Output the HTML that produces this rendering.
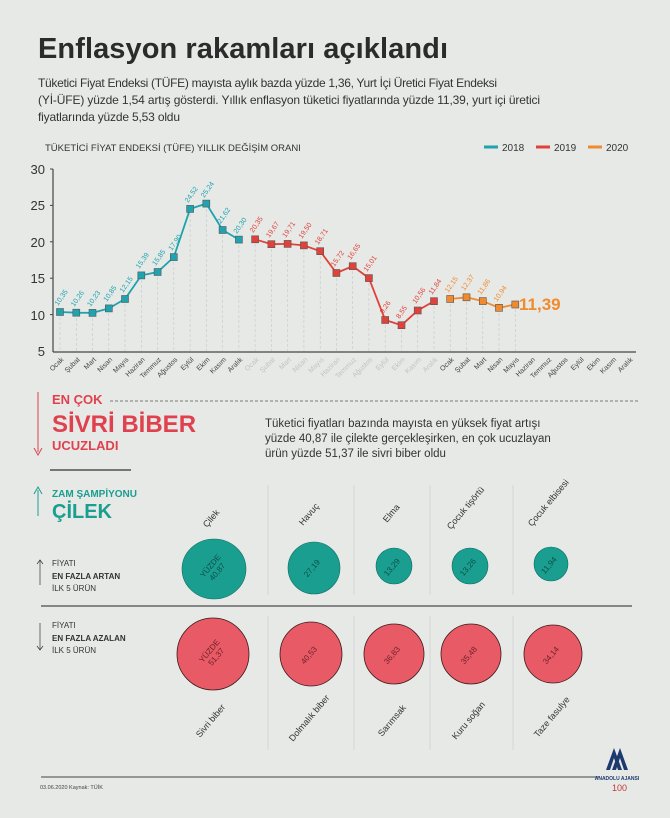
<!DOCTYPE html>
<html><head><meta charset="utf-8"><style>
body{margin:0;background:#e7e9e7;}
svg{display:block;font-family:"Liberation Sans",sans-serif;}
</style></head><body>
<svg width="670" height="818" viewBox="0 0 670 818" xmlns="http://www.w3.org/2000/svg">
<rect width="670" height="818" fill="#e7e9e7"/>
<text x="38" y="58" font-size="29" font-weight="bold" fill="#2b2b2b" textLength="410">Enflasyon rakamları açıklandı</text>
<g font-size="12" fill="#333">
<text x="38" y="87" textLength="459">Tüketici Fiyat Endeksi (TÜFE) mayısta aylık bazda yüzde 1,36, Yurt İçi Üretici Fiyat Endeksi</text>
<text x="38" y="104" textLength="502">(Yİ-ÜFE) yüzde 1,54 artış gösterdi. Yıllık enflasyon tüketici fiyatlarında yüzde 11,39, yurt içi üretici</text>
<text x="38" y="121" textLength="142">fiyatlarında yüzde 5,53 oldu</text>
</g>
<text x="45" y="151" font-size="9.5" fill="#333">TÜKETİCİ FİYAT ENDEKSİ (TÜFE) YILLIK DEĞİŞİM ORANI</text>
<g font-size="10" fill="#333">
<line x1="484" y1="147" x2="498" y2="147" stroke="#1fa3ae" stroke-width="3"/><text x="502" y="151">2018</text>
<line x1="536" y1="147" x2="550" y2="147" stroke="#e0413a" stroke-width="3"/><text x="554" y="151">2019</text>
<line x1="588" y1="147" x2="602" y2="147" stroke="#f08a2e" stroke-width="3"/><text x="606" y="151">2020</text>
</g>

<!-- chart -->
<g stroke="#c4c8c8" stroke-dasharray="3,2" stroke-width="0.6">
<line x1="60" y1="312" x2="60" y2="351"/><line x1="76.3" y1="313" x2="76.3" y2="351"/><line x1="92.5" y1="313" x2="92.5" y2="351"/><line x1="108.8" y1="308" x2="108.8" y2="351"/><line x1="125" y1="299" x2="125" y2="351"/><line x1="141.3" y1="275" x2="141.3" y2="351"/><line x1="157.6" y1="272" x2="157.6" y2="351"/><line x1="173.8" y1="257" x2="173.8" y2="351"/><line x1="190.1" y1="209" x2="190.1" y2="351"/><line x1="206.3" y1="204" x2="206.3" y2="351"/><line x1="222.6" y1="230" x2="222.6" y2="351"/><line x1="238.9" y1="240" x2="238.9" y2="351"/>
<line x1="255.1" y1="239" x2="255.1" y2="351"/><line x1="271.4" y1="244" x2="271.4" y2="351"/><line x1="287.6" y1="244" x2="287.6" y2="351"/><line x1="303.9" y1="245" x2="303.9" y2="351"/><line x1="320.2" y1="251" x2="320.2" y2="351"/><line x1="336.4" y1="273" x2="336.4" y2="351"/><line x1="352.7" y1="266" x2="352.7" y2="351"/><line x1="368.9" y1="278" x2="368.9" y2="351"/><line x1="385.2" y1="320" x2="385.2" y2="351"/><line x1="401.5" y1="325" x2="401.5" y2="351"/><line x1="417.7" y1="310" x2="417.7" y2="351"/><line x1="434" y1="301" x2="434" y2="351"/>
<line x1="450.2" y1="299" x2="450.2" y2="351"/><line x1="466.5" y1="297" x2="466.5" y2="351"/><line x1="482.8" y1="301" x2="482.8" y2="351"/><line x1="499" y1="308" x2="499" y2="351"/><line x1="515.3" y1="304" x2="515.3" y2="351"/>
</g>
<line x1="53" y1="169" x2="53" y2="352" stroke="#444" stroke-width="1.2"/>
<line x1="53" y1="352" x2="636" y2="352" stroke="#444" stroke-width="1.2"/>
<g stroke="#444"><line x1="50" y1="169" x2="53" y2="169"/><line x1="50" y1="205.4" x2="53" y2="205.4"/><line x1="50" y1="241.8" x2="53" y2="241.8"/><line x1="50" y1="278.2" x2="53" y2="278.2"/><line x1="50" y1="314.6" x2="53" y2="314.6"/></g>
<g font-size="13" fill="#333" text-anchor="end">
<text x="45" y="174">30</text><text x="45" y="210">25</text><text x="45" y="247">20</text><text x="45" y="283">15</text><text x="45" y="320">10</text><text x="45" y="356">5</text>
</g>
<g font-size="7" fill="#444" text-anchor="end">
<text transform="translate(64,360) rotate(-45)">Ocak</text><text transform="translate(80.3,360) rotate(-45)">Şubat</text><text transform="translate(96.5,360) rotate(-45)">Mart</text><text transform="translate(112.8,360) rotate(-45)">Nisan</text><text transform="translate(129,360) rotate(-45)">Mayıs</text><text transform="translate(145.3,360) rotate(-45)">Haziran</text><text transform="translate(161.6,360) rotate(-45)">Temmuz</text><text transform="translate(177.8,360) rotate(-45)">Ağustos</text><text transform="translate(194.1,360) rotate(-45)">Eylül</text><text transform="translate(210.3,360) rotate(-45)">Ekim</text><text transform="translate(226.6,360) rotate(-45)">Kasım</text><text transform="translate(242.9,360) rotate(-45)">Aralık</text>
<g fill="#bfc3c3"><text transform="translate(259.1,360) rotate(-45)">Ocak</text><text transform="translate(275.4,360) rotate(-45)">Şubat</text><text transform="translate(291.6,360) rotate(-45)">Mart</text><text transform="translate(307.9,360) rotate(-45)">Nisan</text><text transform="translate(324.2,360) rotate(-45)">Mayıs</text><text transform="translate(340.4,360) rotate(-45)">Haziran</text><text transform="translate(356.7,360) rotate(-45)">Temmuz</text><text transform="translate(372.9,360) rotate(-45)">Ağustos</text><text transform="translate(389.2,360) rotate(-45)">Eylül</text><text transform="translate(405.5,360) rotate(-45)">Ekim</text><text transform="translate(421.7,360) rotate(-45)">Kasım</text><text transform="translate(438,360) rotate(-45)">Aralık</text></g>
<text transform="translate(454.2,360) rotate(-45)">Ocak</text><text transform="translate(470.5,360) rotate(-45)">Şubat</text><text transform="translate(486.8,360) rotate(-45)">Mart</text><text transform="translate(503,360) rotate(-45)">Nisan</text><text transform="translate(519.3,360) rotate(-45)">Mayıs</text><text transform="translate(535.5,360) rotate(-45)">Haziran</text><text transform="translate(551.8,360) rotate(-45)">Temmuz</text><text transform="translate(568.1,360) rotate(-45)">Ağustos</text><text transform="translate(584.3,360) rotate(-45)">Eylül</text><text transform="translate(600.6,360) rotate(-45)">Ekim</text><text transform="translate(616.8,360) rotate(-45)">Kasım</text><text transform="translate(633.1,360) rotate(-45)">Aralık</text>
</g>
<polyline points="60,312 76.3,312.7 92.5,312.9 108.8,308.4 125,299 141.3,275.4 157.6,272 173.8,257.1 190.1,208.9 206.3,203.6 222.6,230 238.9,239.6" fill="none" stroke="#1fa3ae" stroke-width="1.8"/>
<polyline points="255.1,239.3 271.4,244.2 287.6,243.9 303.9,245.4 320.2,251.2 336.4,273 352.7,266.2 368.9,278.1 385.2,320 401.5,325.2 417.7,310.5 434,301.2" fill="none" stroke="#e0413a" stroke-width="1.8"/>
<polyline points="450.2,299 466.5,297.3 482.8,301.1 499,307.8 515.3,304.5" fill="none" stroke="#f08a2e" stroke-width="1.8"/>
<g fill="#1fa3ae" stroke="#555" stroke-width="0.6">
<rect x="56.5" y="308.5" width="7" height="7"/><rect x="72.8" y="309.2" width="7" height="7"/><rect x="89" y="309.4" width="7" height="7"/><rect x="105.3" y="304.9" width="7" height="7"/><rect x="121.5" y="295.5" width="7" height="7"/><rect x="137.8" y="271.9" width="7" height="7"/><rect x="154.1" y="268.5" width="7" height="7"/><rect x="170.3" y="253.6" width="7" height="7"/><rect x="186.6" y="205.4" width="7" height="7"/><rect x="202.8" y="200.1" width="7" height="7"/><rect x="219.1" y="226.5" width="7" height="7"/><rect x="235.4" y="236.1" width="7" height="7"/>
</g>
<g fill="#e0413a" stroke="#555" stroke-width="0.6">
<rect x="251.6" y="235.8" width="7" height="7"/><rect x="267.9" y="240.7" width="7" height="7"/><rect x="284.1" y="240.4" width="7" height="7"/><rect x="300.4" y="241.9" width="7" height="7"/><rect x="316.7" y="247.7" width="7" height="7"/><rect x="332.9" y="269.5" width="7" height="7"/><rect x="349.2" y="262.7" width="7" height="7"/><rect x="365.4" y="274.6" width="7" height="7"/><rect x="381.7" y="316.5" width="7" height="7"/><rect x="398" y="321.7" width="7" height="7"/><rect x="414.2" y="307" width="7" height="7"/><rect x="430.5" y="297.7" width="7" height="7"/>
</g>
<g fill="#f08a2e" stroke="#555" stroke-width="0.6">
<rect x="446.7" y="295.5" width="7" height="7"/><rect x="463" y="293.8" width="7" height="7"/><rect x="479.3" y="297.6" width="7" height="7"/><rect x="495.5" y="304.3" width="7" height="7"/><rect x="511.8" y="301" width="7" height="7"/>
</g>
<g font-size="7" fill="#1fa3ae">
<text transform="translate(58,306) rotate(-55)">10,35</text><text transform="translate(74.3,307) rotate(-55)">10,26</text><text transform="translate(90.5,307) rotate(-55)">10,23</text><text transform="translate(106.8,302) rotate(-55)">10,85</text><text transform="translate(123,293) rotate(-55)">12,15</text><text transform="translate(139.3,269) rotate(-55)">15,39</text><text transform="translate(155.6,266) rotate(-55)">15,85</text><text transform="translate(171.8,251) rotate(-55)">17,90</text><text transform="translate(188.1,203) rotate(-55)">24,52</text><text transform="translate(204.3,198) rotate(-55)">25,24</text><text transform="translate(220.6,224) rotate(-55)">21,62</text><text transform="translate(236.9,234) rotate(-55)">20,30</text>
</g>
<g font-size="7" fill="#e0413a">
<text transform="translate(253.1,233) rotate(-55)">20,35</text><text transform="translate(269.4,238) rotate(-55)">19,67</text><text transform="translate(285.6,238) rotate(-55)">19,71</text><text transform="translate(301.9,239) rotate(-55)">19,50</text><text transform="translate(318.2,245) rotate(-55)">18,71</text><text transform="translate(334.4,267) rotate(-55)">15,72</text><text transform="translate(350.7,260) rotate(-55)">16,65</text><text transform="translate(366.9,272) rotate(-55)">15,01</text><text transform="translate(383.2,314) rotate(-55)">9,26</text><text transform="translate(399.5,319) rotate(-55)">8,55</text><text transform="translate(415.7,304) rotate(-55)">10,56</text><text transform="translate(432,295) rotate(-55)">11,84</text>
</g>
<g font-size="7" fill="#f08a2e">
<text transform="translate(448.2,293) rotate(-55)">12,15</text><text transform="translate(464.5,291) rotate(-55)">12,37</text><text transform="translate(480.8,295) rotate(-55)">11,86</text><text transform="translate(497,302) rotate(-55)">10,94</text>
</g>
<text x="519" y="310" font-size="17" font-weight="bold" fill="#f08a2e">11,39</text>

<!-- bottom section -->
<line x1="38" y1="392" x2="38" y2="452" stroke="#e0414e" stroke-width="1"/>
<path d="M34 448 L38 455 L42 448" fill="none" stroke="#e0414e"/>
<text x="52" y="404" font-size="13" font-weight="bold" fill="#e0414e">EN ÇOK</text>
<text x="52" y="432" font-size="24" font-weight="bold" fill="#e0414e">SİVRİ BİBER</text>
<text x="52" y="450" font-size="13" font-weight="bold" fill="#e0414e">UCUZLADI</text>
<line x1="110" y1="401" x2="638" y2="401" stroke="#555" stroke-dasharray="3,2" stroke-width="0.8"/>
<g font-size="11.5" fill="#333">
<text x="265" y="427">Tüketici fiyatları bazında mayısta en yüksek fiyat artışı</text>
<text x="265" y="442">yüzde 40,87 ile çilekte gerçekleşirken, en çok ucuzlayan</text>
<text x="265" y="457">ürün yüzde 51,37 ile sivri biber oldu</text>
</g>
<line x1="50" y1="470" x2="131" y2="470" stroke="#333" stroke-width="1.2"/>
<line x1="38" y1="490" x2="38" y2="516" stroke="#1a9e8f"/>
<path d="M34 494 L38 487 L42 494" fill="none" stroke="#1a9e8f"/>
<text x="52" y="497" font-size="10" font-weight="bold" fill="#1a9e8f">ZAM ŞAMPİYONU</text>
<text x="52" y="518" font-size="20" font-weight="bold" fill="#1a9e8f">ÇİLEK</text>
<g font-size="8" fill="#333">
<line x1="40" y1="560" x2="40" y2="585" stroke="#333" stroke-width="0.7"/><path d="M37 564 L40 560 L43 564" fill="none" stroke="#333" stroke-width="0.7"/>
<text x="52" y="566">FİYATI</text><text x="52" y="579" font-weight="bold">EN FAZLA ARTAN</text><text x="52" y="591">İLK 5 ÜRÜN</text>
<line x1="40" y1="623" x2="40" y2="650" stroke="#333" stroke-width="0.7"/><path d="M37 646 L40 650 L43 646" fill="none" stroke="#333" stroke-width="0.7"/>
<text x="52" y="628">FİYATI</text><text x="52" y="641" font-weight="bold">EN FAZLA AZALAN</text><text x="52" y="653">İLK 5 ÜRÜN</text>
</g>
<g stroke="#ccc" stroke-width="0.7">
<line x1="268" y1="485" x2="268" y2="595"/><line x1="354" y1="485" x2="354" y2="595"/><line x1="430" y1="485" x2="430" y2="595"/><line x1="513" y1="485" x2="513" y2="595"/>
<line x1="268" y1="616" x2="268" y2="750"/><line x1="354" y1="616" x2="354" y2="750"/><line x1="430" y1="616" x2="430" y2="750"/><line x1="513" y1="616" x2="513" y2="750"/>
</g>
<line x1="41" y1="606" x2="632" y2="606" stroke="#666" stroke-width="1.5"/>
<g fill="#1a9e8f" stroke="#0d6f66" stroke-width="0.6">
<ellipse cx="214" cy="569" rx="32" ry="30"/><ellipse cx="314" cy="568" rx="26" ry="26"/><ellipse cx="394" cy="566" rx="18" ry="18"/><ellipse cx="470" cy="566" rx="18" ry="18"/><ellipse cx="551" cy="564" rx="17" ry="17"/>
</g>
<g fill="#e85a66" stroke="#3a1a1a" stroke-width="0.8">
<ellipse cx="213" cy="654" rx="36" ry="36"/><ellipse cx="311" cy="654" rx="31" ry="32"/><ellipse cx="394" cy="654" rx="30" ry="30"/><ellipse cx="471" cy="654" rx="30" ry="30"/><ellipse cx="553" cy="654" rx="29" ry="29"/>
</g>
<g font-size="8" fill="#0c4f49" text-anchor="middle">
<text transform="translate(214,569) rotate(-50)"><tspan x="0" y="-2">YÜZDE</tspan><tspan x="0" y="7">40,87</tspan></text>
<text transform="translate(314,570) rotate(-50)">27,19</text>
<text transform="translate(394,569) rotate(-50)">13,29</text>
<text transform="translate(470,569) rotate(-50)">13,26</text>
<text transform="translate(551,567) rotate(-50)">11,94</text>
</g>
<g font-size="8" fill="#6a1f25" text-anchor="middle">
<text transform="translate(213,654) rotate(-50)"><tspan x="0" y="-2">YÜZDE</tspan><tspan x="0" y="7">51,37</tspan></text>
<text transform="translate(311,657) rotate(-50)">40,53</text>
<text transform="translate(394,657) rotate(-50)">36,83</text>
<text transform="translate(471,657) rotate(-50)">35,48</text>
<text transform="translate(553,657) rotate(-50)">34,14</text>
</g>
<g font-size="9" fill="#333">
<text transform="translate(207,528) rotate(-50)">Çilek</text>
<text transform="translate(303,526) rotate(-50)">Havuç</text>
<text transform="translate(387,523) rotate(-50)">Elma</text>
<text transform="translate(451,530) rotate(-50)">Çocuk tişörtü</text>
<text transform="translate(532,527) rotate(-50)">Çocuk elbisesi</text>
<text transform="translate(200,738) rotate(-50)">Sivri biber</text>
<text transform="translate(293,742) rotate(-50)">Dolmalık biber</text>
<text transform="translate(382,737) rotate(-50)">Sarımsak</text>
<text transform="translate(456,740) rotate(-50)">Kuru soğan</text>
<text transform="translate(538,738) rotate(-50)">Taze fasulye</text>
</g>
<line x1="41" y1="777" x2="600" y2="777" stroke="#666" stroke-width="1.2"/>
<text x="40" y="789" font-size="5.5" fill="#444">03.06.2020    Kaynak: TÜİK</text>
<g fill="#1d3a6e"><path d="M606 770 L614 748 L622 770 L618 770 L614 758 L610 770Z"/><path d="M612 770 L620 748 L628 770 L624 770 L620 758 L616 770Z"/></g>
<text x="617" y="780" font-size="5" font-weight="bold" fill="#1d3a6e" text-anchor="middle">ANADOLU AJANSI</text>
<text x="612" y="791" font-size="9" fill="#c0393b">100</text>
</svg>
</body></html>
